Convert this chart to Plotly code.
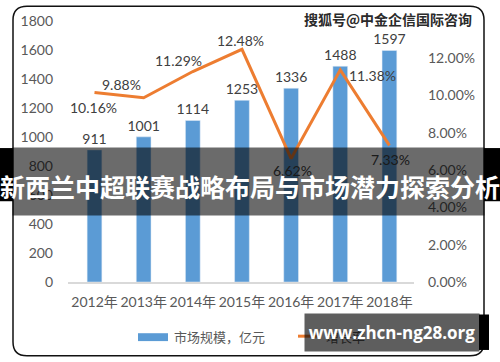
import plotly.graph_objects as go

years = ["2012年", "2013年", "2014年", "2015年", "2016年", "2017年", "2018年"]
market_size = [911, 1001, 1114, 1253, 1336, 1488, 1597]
growth = [0.1016, 0.0988, 0.1129, 0.1248, 0.0662, 0.1138, 0.0733]
growth_labels = ["10.16%", "9.88%", "11.29%", "12.48%", "6.62%", "11.38%", "7.33%"]
left_ticks = [0, 200, 400, 600, 800, 1000, 1200, 1400, 1600, 1800]
right_ticks = [0, 0.02, 0.04, 0.06, 0.08, 0.10, 0.12]

W, H = 500, 362
ML, MR, MT, MB = 68, 86, 17, 80
PW, PH = W - ML - MR, H - MT - MB

def px(x):
    return (x - ML) / PW

def py(y):
    return (H - MB - y) / PH

BLUE = "#5B9BD5"
ORANGE = "#ED7D31"
TXT = "#595959"
FONT = "Lato, Noto Sans CJK SC, sans-serif"
CJK = "Noto Sans CJK SC, sans-serif"

fig = go.Figure()
fig.add_trace(go.Bar(
    x=years, y=market_size, name="市场规模，亿元",
    marker_color=BLUE, text=[str(v) for v in market_size],
    textposition="outside", constraintext="none",
    textfont=dict(size=14, color="#404040", family=FONT),
    cliponaxis=False, yaxis="y",
))
fig.add_trace(go.Scatter(
    x=years, y=growth, name="增长率", mode="lines",
    line=dict(color=ORANGE, width=3), yaxis="y2",
))

# label offsets (pixels) for growth labels
shifts = [(-1, -15), (-22, 13), (-14, 11), (-1, 9), (1, -12), (32, -6), (1, -14)]
annotations = []
for yr, g, lab, (dx, dy) in zip(years, growth, growth_labels, shifts):
    annotations.append(dict(x=yr, y=g, xref="x", yref="y2", text=lab, showarrow=False,
                            xshift=dx, yshift=dy, xanchor="center", yanchor="middle",
                            font=dict(size=14, color="#404040", family=FONT)))

def pann(x, y, text, font, **kw):
    d = dict(x=px(x), y=py(y), xref="paper", yref="paper", text=text, showarrow=False,
             xanchor=kw.pop("xanchor", "center"), yanchor="middle", font=font)
    d.update(kw)
    return d

# legend (manual)
shapes = []
shapes.append(dict(type="rect", xref="paper", yref="paper", x0=px(138), x1=px(168),
                   y0=py(342), y1=py(334), fillcolor=BLUE, line=dict(width=0)))
shapes.append(dict(type="line", xref="paper", yref="paper", x0=px(298), x1=px(320),
                   y0=py(337), y1=py(337), line=dict(color=ORANGE, width=3)))
annotations.append(pann(172, 337, "市场规模，亿元", dict(size=13, color=TXT, family=CJK),
                        xanchor="left"))
annotations.append(pann(324, 337, "增长率", dict(size=13, color=TXT, family=CJK),
                        xanchor="left"))

# rounded frame
x0, x1, y0, y1, r = 13, 484, 2, 357, 14
pts = [
    f"M {px(x0 + r)},{py(y0)}",
    f"L {px(x1 - r)},{py(y0)}",
    f"Q {px(x1)},{py(y0)} {px(x1)},{py(y0 + r)}",
    f"L {px(x1)},{py(y1 - r)}",
    f"Q {px(x1)},{py(y1)} {px(x1 - r)},{py(y1)}",
    f"L {px(x0 + r)},{py(y1)}",
    f"Q {px(x0)},{py(y1)} {px(x0)},{py(y1 - r)}",
    f"L {px(x0)},{py(y0 + r)}",
    f"Q {px(x0)},{py(y0)} {px(x0 + r)},{py(y0)} Z",
]
shapes.append(dict(type="path", xref="paper", yref="paper", path=" ".join(pts),
                   line=dict(color="#111111", width=1.5), layer="above"))

# black side strips of banner
shapes.append(dict(type="rect", xref="paper", yref="paper", x0=px(0), x1=px(13),
                   y0=py(200), y1=py(146), fillcolor="black", line=dict(width=0), layer="above"))
shapes.append(dict(type="rect", xref="paper", yref="paper", x0=px(484), x1=px(500),
                   y0=py(200), y1=py(146), fillcolor="black", line=dict(width=0), layer="above"))
# black strip by bottom watermark
shapes.append(dict(type="rect", xref="paper", yref="paper", x0=px(479), x1=px(489),
                   y0=py(351), y1=py(315), fillcolor="black", line=dict(width=0), layer="above"))

# banner band
annotations.append(pann(248.5, 179.5, " ", dict(size=10), width=471, height=67,
                        borderpad=0, bgcolor="rgba(0,0,0,0.58)"))
annotations.append(pann(250, 185, "<b>新西兰中超联赛战略布局与市场潜力探索分析</b>",
                        dict(size=25, color="white", family=CJK)))

# bottom watermark
annotations.append(pann(392, 333.5, "<b>www.zhcn-ng28.org</b>",
                        dict(size=17, color="white", family="Open Sans, sans-serif"),
                        width=174, height=37, borderpad=0, bgcolor="rgba(0,0,0,0.63)"))

# top watermark
annotations.append(pann(388, 15, "<b>搜狐号@中金企信国际咨询</b>",
                        dict(size=14, color="#2a2a2a", family=CJK,
                             shadow="1px 1px 1px white, -1px -1px 1px white, 1px -1px 1px white, -1px 1px 1px white")))

fig.update_layout(
    width=W, height=H,
    margin=dict(l=ML, r=MR, t=MT, b=MB, pad=0),
    paper_bgcolor="white", plot_bgcolor="white",
    showlegend=False,
    bargap=0.7,
    xaxis=dict(type="category", showgrid=False, showline=True, linecolor="#d9d9d9",
               linewidth=1.5, ticks="", ticklabelstandoff=6,
               tickfont=dict(size=14, color=TXT, family=FONT)),
    yaxis=dict(range=[0, 1800], tickvals=left_ticks, showgrid=False, zeroline=False,
               showline=False, ticks="", ticklabelstandoff=14,
               tickfont=dict(size=14, color=TXT, family=FONT)),
    yaxis2=dict(range=[0, 0.14], tickvals=right_ticks, tickformat=".2%", overlaying="y",
                side="right", showgrid=False, zeroline=False, showline=False, ticks="",
                ticklabelstandoff=13, tickfont=dict(size=14, color=TXT, family=FONT)),
    shapes=shapes,
    annotations=annotations,
)

fig.write_html("out.html", config={"displayModeBar": False},
               post_script="document.body.style.margin='0';")
